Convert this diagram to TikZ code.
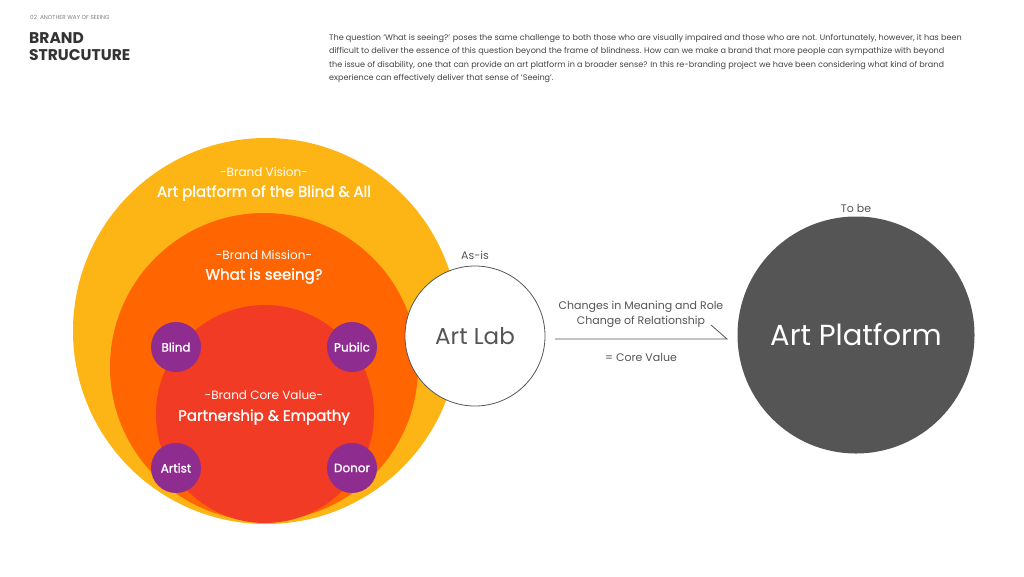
\documentclass[tikz,border=0pt]{standalone}
\usepackage{fontspec}
\setmainfont{Poppins}
\newfontfamily\pp{Poppins}
\newfontfamily\ppb[FakeBold=1.3]{Poppins}
\definecolor{cyellow}{HTML}{FDB515}
\definecolor{corange}{HTML}{FF6500}
\definecolor{cred}{HTML}{F23B24}
\definecolor{cpurple}{HTML}{8E2C8F}
\definecolor{cdark}{HTML}{555555}
\definecolor{ctext}{HTML}{444444}
\definecolor{chead}{HTML}{333333}
\tikzset{
  ring/.style={circle, inner sep=0pt, draw=none},
  person/.style={circle, fill=cpurple, minimum size=50pt, inner sep=0pt, text=white, font=\ppb\fontsize{12}{12}\selectfont},
  small/.style={text=white, font=\pp\fontsize{12}{12}\selectfont, inner sep=0pt},
  big/.style={text=white, font=\ppb\fontsize{15}{15}\selectfont, inner sep=0pt},
  para/.style={anchor=west, inner sep=0pt, text=ctext, font=\pp\fontsize{8.1}{8.1}\selectfont},
  glabel/.style={text=cdark, inner sep=0pt, font=\pp\fontsize{11}{11}\selectfont},
}
\begin{document}
\begin{tikzpicture}[x=1pt,y=-1pt]
\useasboundingbox (0,0) rectangle (1024,576);
\fill[white] (0,0) rectangle (1024,576);
% header
\node[anchor=west, inner sep=0pt, text=gray, font=\pp\fontsize{5.7}{5.7}\selectfont] (sec) at (30,17) {02\ \ ANOTHER WAY OF SEEING};
\node[anchor=north west, inner sep=0pt, align=left, text=chead, font=\pp\fontsize{15.5}{17.5}\bfseries\selectfont] (title) at (29,32) {BRAND\\STRUCUTURE};
\node[para] (p1) at (329,38) {The question ‘What is seeing?’ poses the same challenge to both those who are visually impaired and those who are not. Unfortunately, however, it has been};
\node[para] (p2) at (329,51.5) {difficult to deliver the essence of this question beyond the frame of blindness. How can we make a brand that more people can sympathize with beyond};
\node[para] (p3) at (329,65) {the issue of disability, one that can provide an art platform in a broader sense? In this re-branding project we have been considering what kind of brand};
\node[para] (p4) at (329,78.5) {experience can effectively deliver that sense of ‘Seeing’.};
% circles
\node[ring, fill=cyellow, minimum size=386pt] (vision) at (266,331) {};
\node[ring, fill=corange, minimum size=308pt] (mission) at (264,367) {};
\node[ring, fill=cred, minimum size=218pt] (core) at (265,414) {};
\node[small] (vl) at (264,172) {-Brand Vision-};
\node[big] (vt) at (264,193) {Art platform of the Blind \& All};
\node[small] (ml) at (264,255) {-Brand Mission-};
\node[big] (mt) at (264,276) {What is seeing?};
\node[small] (cl) at (264,395) {-Brand Core Value-};
\node[big] (ct) at (264,417) {Partnership \& Empathy};
\node[person] (blind) at (176,347) {Blind};
\node[person] (public) at (352,347) {Pubilc};
\node[person] (artist) at (176,468) {Artist};
\node[person] (donor) at (352,468) {Donor};
% art lab
\node[circle, draw=cdark, line width=0.8pt, fill=white, minimum size=140pt, inner sep=0pt, text=cdark, font=\pp\fontsize{23}{23}\selectfont] (artlab) at (475,336) {Art Lab};
\node[glabel] (asis) at (475,255) {As-is};
% art platform
\node[circle, fill=cdark, minimum size=237pt, inner sep=0pt, text=white, font=\pp\fontsize{29}{29}\selectfont] (artplat) at (856,335) {Art Platform};
\node[glabel] (tobe) at (856,208) {To be};
% arrow
\coordinate (a1) at (555,339);
\coordinate (a2) at (727,339);
\draw[cdark, line width=0.8pt] (a1) -- (a2) -- ++(-16,-14);
\node[glabel] (m1) at (641,307) {Changes in Meaning and Role};
\node[glabel] (m2) at (641,322) {Change of Relationship};
\node[glabel] (m3) at (641,357) {= Core Value};
\end{tikzpicture}
\end{document}
